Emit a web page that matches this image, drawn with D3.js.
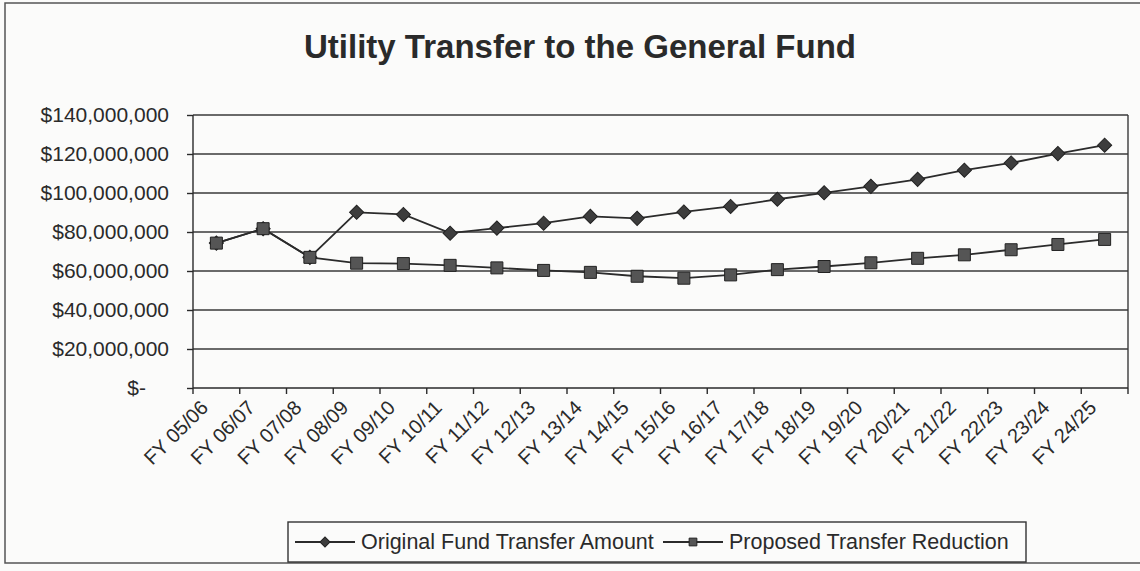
<!DOCTYPE html>
<html>
<head>
<meta charset="utf-8">
<script src="https://cdn.jsdelivr.net/npm/d3@7"></script>
<style>
  body { margin: 0; background: #fbfbfa; }
  svg { display: block; font-family: "Liberation Sans", Arial, sans-serif; }
  .grid line { stroke: #3a3a3a; stroke-width: 1.4; }
  .axis path, .axis line { stroke: #2a2a2a; stroke-width: 1.4; }
  .axis text { fill: #2a2a2a; }
</style>
</head>
<body>
<svg id="chart" width="1140" height="571"></svg>
<script>
var years = ["FY 05/06", "FY 06/07", "FY 07/08", "FY 08/09", "FY 09/10", "FY 10/11",
  "FY 11/12", "FY 12/13", "FY 13/14", "FY 14/15", "FY 15/16", "FY 16/17", "FY 17/18",
  "FY 18/19", "FY 19/20", "FY 20/21", "FY 21/22", "FY 22/23", "FY 23/24", "FY 24/25"];
var original = [74.3, 81.7, 67.0, 90.1, 89.0, 79.4, 82.0, 84.5, 88.0, 87.0, 90.3, 93.1,
  96.8, 100.1, 103.4, 107.0, 111.7, 115.4, 120.2, 124.5];
var proposed = [74.3, 81.7, 67.0, 64.0, 63.8, 62.9, 61.6, 60.3, 59.3, 57.3, 56.3, 58.0,
  60.7, 62.3, 64.2, 66.5, 68.3, 70.9, 73.6, 76.2];
var yTicks = [0, 20, 40, 60, 80, 100, 120, 140];
var title = "Utility Transfer to the General Fund";
var seriesNames = ["Original Fund Transfer Amount", "Proposed Transfer Reduction"];

var svg = d3.select("#chart");
var plotL = 193, plotR = 1128, plotT = 115, plotB = 388;

var x = d3.scaleBand().domain(years).range([plotL, plotR]);
var y = d3.scaleLinear().domain([0, 140]).range([plotB, plotT]);

// outer frame
svg.append("rect")
   .attr("x", 5).attr("y", 3).attr("width", 1140).attr("height", 560)
   .attr("fill", "none").attr("stroke", "#555").attr("stroke-width", 1.5);

svg.append("text")
   .attr("x", 580).attr("y", 58)
   .attr("text-anchor", "middle")
   .attr("font-size", 33).attr("font-weight", "bold")
   .attr("fill", "#2a2a2a")
   .text(title);

// gridlines
svg.append("g").attr("class", "grid")
   .selectAll("line").data(yTicks.slice(1)).enter().append("line")
   .attr("x1", plotL).attr("x2", plotR)
   .attr("y1", function(d) { return y(d); })
   .attr("y2", function(d) { return y(d); });

// right edge of plot area
svg.append("line")
   .attr("x1", plotR).attr("x2", plotR).attr("y1", plotT).attr("y2", plotB)
   .attr("stroke", "#3a3a3a").attr("stroke-width", 1.4);

var yAxis = d3.axisLeft(y).tickValues(yTicks).tickSize(6).tickPadding(18)
   .tickFormat(function(d) { return d == 0 ? "$-" : "$" + d3.format(",")(d * 1000000); });
var gy = svg.append("g").attr("class", "axis")
   .attr("transform", "translate(" + plotL + ",0)").call(yAxis);
gy.selectAll("text").attr("font-size", 21).attr("font-family", null);
gy.select(".domain").attr("d", "M0," + plotT + "V" + plotB);
// "$-" sits further right than the other labels
gy.selectAll(".tick").filter(function(d) { return d == 0; }).select("text")
   .attr("x", -47);

// x axis with ticks at band boundaries
var xAxis = d3.axisBottom(x).tickSize(0).tickPadding(0);
var gx = svg.append("g").attr("class", "axis")
   .attr("transform", "translate(0," + plotB + ")").call(xAxis);
gx.select(".domain").attr("d", "M" + plotL + ",0H" + plotR);
gx.selectAll("text")
   .attr("font-size", 20).attr("font-family", null)
   .attr("text-anchor", "end")
   .attr("dy", "0.35em")
   .attr("transform", "translate(-12,16) rotate(-45)");
gx.selectAll(".bound").data(d3.range(years.length + 1)).enter().append("line")
   .attr("x1", function(i) { return plotL + i * x.step(); })
   .attr("x2", function(i) { return plotL + i * x.step(); })
   .attr("y1", 0).attr("y2", 6);

var line = d3.line()
   .x(function(d, i) { return x(years[i]) + x.bandwidth() / 2; })
   .y(function(d) { return y(d); });

function drawSeries(values, rot, size, fill) {
  svg.append("path").datum(values)
     .attr("d", line).attr("fill", "none")
     .attr("stroke", "#2b2b2b").attr("stroke-width", 1.8);
  svg.append("g").selectAll("path").data(values).enter().append("path")
     .attr("d", d3.symbol().type(d3.symbolSquare).size(size))
     .attr("transform", function(d, i) {
       return "translate(" + (x(years[i]) + x.bandwidth() / 2) + "," + y(d) + ") rotate(" + rot + ")";
     })
     .attr("fill", fill).attr("stroke", "#222").attr("stroke-width", 1);
}
drawSeries(original, 45, 100, "#3d3d3d");
drawSeries(proposed, 0, 144, "#555");

// legend
var lg = svg.append("g");
lg.append("rect")
   .attr("x", 288).attr("y", 522).attr("width", 738).attr("height", 40)
   .attr("fill", "none").attr("stroke", "#333").attr("stroke-width", 1.4);
var items = [
  { name: seriesNames[0], x0: 295, rot: 45, size: 50, fill: "#3d3d3d" },
  { name: seriesNames[1], x0: 663, rot: 0, size: 60, fill: "#555" }
];
items.forEach(function(it) {
  lg.append("line").attr("x1", it.x0).attr("x2", it.x0 + 60)
    .attr("y1", 542).attr("y2", 542)
    .attr("stroke", "#2b2b2b").attr("stroke-width", 1.8);
  lg.append("path").attr("d", d3.symbol().type(d3.symbolSquare).size(it.size))
    .attr("transform", "translate(" + (it.x0 + 30) + ",542) rotate(" + it.rot + ")")
    .attr("fill", it.fill).attr("stroke", "#222");
  lg.append("text").attr("x", it.x0 + 66).attr("y", 549)
    .attr("font-size", 21.5).attr("fill", "#2a2a2a").text(it.name);
});
</script>
</body>
</html>
